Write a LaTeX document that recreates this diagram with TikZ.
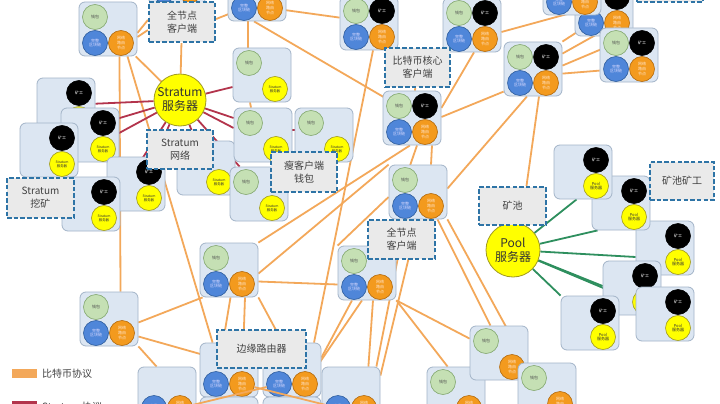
\documentclass[tikz,border=0pt]{standalone}
\usepackage{fontspec}
\setmainfont{Noto Sans CJK SC}
\usetikzlibrary{backgrounds}
\definecolor{boxfill}{HTML}{DCE6F2}
\definecolor{boxline}{HTML}{A3B4C8}
\definecolor{walf}{HTML}{C5E0B4}
\definecolor{wald}{HTML}{84A870}
\definecolor{bluef}{HTML}{4F86D9}
\definecolor{blued}{HTML}{2F5E9E}
\definecolor{orgf}{HTML}{F39A1E}
\definecolor{orgd}{HTML}{B36A0E}
\definecolor{yelf}{HTML}{FFFF00}
\definecolor{yeld}{HTML}{A09A20}
\definecolor{cBtc}{HTML}{F3A85A}
\definecolor{cStr}{HTML}{B3344C}
\definecolor{cPool}{HTML}{2E8F5E}
\definecolor{lblline}{HTML}{2E74A6}
\definecolor{lblfill}{HTML}{EAEAEA}
\tikzset{
 nbox/.style={draw=boxline, fill=boxfill, rounded corners=6pt, line width=0.8pt, minimum width=58pt, minimum height=54pt, inner sep=0pt},
 circ/.style={circle, minimum size=25pt, inner sep=0pt, line width=0.6pt, align=center, font=\fontsize{4}{4.6}\selectfont},
 walc/.style={circ, fill=walf, draw=wald, text=black!70, node contents={钱包}},
 blkc/.style={circ, fill=bluef, draw=blued, text=white!85!blue, node contents={完整\\区块链}},
 rtec/.style={circ, fill=orgf, draw=orgd, text=white!80!orange, node contents={网络\\路由\\节点}},
 minc/.style={circ, fill=black, draw=black, text=white, node contents={矿工}},
 srvc/.style={circ, fill=yelf, draw=yeld, text=black!80, font=\fontsize{3.4}{4}\selectfont, node contents={Stratum\\服务器}},
 plc/.style={circ, fill=yelf, draw=yeld, text=black!80, node contents={Pool\\服务器}},
 nonec/.style={inner sep=0pt, minimum size=0pt, node contents={}},
 lbl/.style={draw=lblline, fill=lblfill, line width=2.2pt, dash pattern=on 4.5pt off 2.2pt, inner sep=0pt, align=center, text=black!75, font=\fontsize{10}{13}\selectfont},
 bigy/.style={circle, fill=yelf, draw=yeld, line width=0.8pt, minimum size=52pt, inner sep=0pt, align=center, text=black!80, font=\fontsize{12}{14}\selectfont},
 btc/.style={draw=cBtc, line width=1.8pt},
 strat/.style={draw=cStr, line width=1.8pt},
 poolln/.style={draw=cPool, line width=1.8pt},
}
\newcommand\nbox[7]{%
 \node[nbox] (#1) at (#2+29,#3+27) {};
 \node (#1tl) at (#2+16,#3+15) [#4];
 \node (#1tr) at (#2+42,#3+15) [#5];
 \node (#1bl) at (#2+16,#3+41) [#6];
 \node (#1br) at (#2+42,#3+41) [#7];
}
\begin{document}
\begin{tikzpicture}[x=1pt,y=-1pt]
\useasboundingbox (0,0) rectangle (720,404);
\begin{scope}[on background layer]
\fill[white] (0,0) rectangle (720,404);
\end{scope}
% full nodes
\nbox{N2}{148}{-51}{nonec}{nonec}{blkc}{rtec}
\nbox{N3}{228}{-33}{nonec}{nonec}{blkc}{rtec}
\nbox{N1}{79}{2}{walc}{nonec}{blkc}{rtec}
\nbox{N4}{340}{-4}{walc}{minc}{blkc}{rtec}
\nbox{N5}{443}{-2}{walc}{minc}{blkc}{rtec}
\nbox{N7}{575}{-18}{nonec}{minc}{blkc}{rtec}
\nbox{N6}{543}{-39}{nonec}{nonec}{blkc}{rtec}
\nbox{N8}{600}{28}{walc}{minc}{blkc}{rtec}
\nbox{N9}{504}{42}{walc}{minc}{blkc}{rtec}
\nbox{N10}{383}{91}{walc}{minc}{blkc}{rtec}
\nbox{N11}{389}{165}{walc}{nonec}{blkc}{rtec}
\nbox{N12}{338}{246}{walc}{nonec}{blkc}{rtec}
\nbox{N13}{200}{243}{walc}{nonec}{blkc}{rtec}
\nbox{N14}{80}{292}{walc}{nonec}{blkc}{rtec}
\nbox{N15}{200}{343}{nonec}{nonec}{blkc}{rtec}
\nbox{N16}{263}{343}{nonec}{nonec}{blkc}{rtec}
\nbox{B1}{138}{367}{nonec}{nonec}{blkc}{rtec}
\nbox{B2}{200}{397}{nonec}{nonec}{nonec}{nonec}
\nbox{B3}{263}{397}{nonec}{nonec}{nonec}{nonec}
\nbox{B4}{322}{367}{nonec}{nonec}{blkc}{rtec}
\nbox{N20}{427}{367}{walc}{nonec}{nonec}{rtec}
\nbox{N19}{470}{326}{walc}{nonec}{nonec}{rtec}
\nbox{N21}{518}{363}{walc}{nonec}{nonec}{rtec}
% stratum miners
\nbox{S1}{37}{78}{nonec}{minc}{nonec}{srvc}
\nbox{S2}{61}{108}{nonec}{minc}{nonec}{srvc}
\nbox{S3}{20}{123}{nonec}{minc}{nonec}{srvc}
\nbox{S5}{107}{157}{nonec}{minc}{nonec}{srvc}
\nbox{S4}{62}{177}{nonec}{minc}{nonec}{srvc}
% stratum wallets
\nbox{W5}{177}{141}{walc}{nonec}{nonec}{srvc}
\nbox{W1}{233}{48}{walc}{nonec}{nonec}{srvc}
\nbox{W2}{234}{108}{walc}{nonec}{nonec}{srvc}
\nbox{W3}{295}{108}{walc}{nonec}{nonec}{srvc}
\nbox{W4}{230}{167}{walc}{nonec}{nonec}{srvc}
% pool miners
\nbox{P3}{636}{221}{nonec}{minc}{nonec}{plc}
\nbox{P2}{592}{176}{nonec}{minc}{nonec}{plc}
\nbox{P1}{554}{145}{nonec}{minc}{nonec}{plc}
\nbox{P4}{603}{261}{nonec}{minc}{nonec}{plc}
\nbox{P6}{561}{296}{nonec}{minc}{nonec}{plc}
\nbox{P5}{636}{287}{nonec}{minc}{nonec}{plc}
% lines over the bottom boxes
\draw[btc] (N16bl) -- (B1br);
\draw[btc] (N15br) -- (B4bl);
% servers
\node[bigy] (SRV) at (180,100) {Stratum\\服务器};
\node[bigy, minimum size=54pt] (POOL) at (513,250) {Pool\\服务器};
% labels
\node[lbl, minimum width=66pt, minimum height=40pt] (Q1) at (182,22) {全节点\\客户端};
\node[lbl, minimum width=65pt, minimum height=39pt] (Q2) at (417.5,67.5) {比特币核心\\客户端};
\node[lbl, minimum width=66pt, minimum height=39pt] (Q3) at (180,149.5) {Stratum\\网络};
\node[lbl, minimum width=67pt, minimum height=40pt] (Q4) at (40.5,198) {Stratum\\挖矿};
\node[lbl, minimum width=66pt, minimum height=40pt] (Q5) at (304,172) {瘦客户端\\钱包};
\node[lbl, minimum width=67pt, minimum height=38pt] (Q6) at (512.5,206) {矿池};
\node[lbl, minimum width=64pt, minimum height=38pt] (Q7) at (682,181) {矿池矿工};
\node[lbl, minimum width=67pt, minimum height=39pt] (Q8) at (401.5,239.5) {全节点\\客户端};
\node[lbl, minimum width=89pt, minimum height=38pt] (Q9) at (261.5,349) {边缘路由器};
\node[lbl, minimum width=66pt, minimum height=40pt] (Q10) at (670,-18) {};
% legend
\node[fill=cBtc, minimum width=25pt, minimum height=9pt, inner sep=0pt] (L1) at (24.5,373.5) {};
\node[anchor=west, font=\fontsize{10}{12}\selectfont, text=black!75, inner sep=0pt] (L1t) at (42,373.5) {比特币协议};
\node[fill=cStr, minimum width=25pt, minimum height=9pt, inner sep=0pt] (L2) at (24.5,405) {};
\node[anchor=west, font=\fontsize{10}{12}\selectfont, text=black!75, inner sep=0pt] (L2t) at (42,407) {Stratum 协议};
% connectors
\begin{scope}[on background layer]
\draw[btc] ([shift={(0,4)}]N1.east) -- ([shift={(0,-2)}]Q1.west);
\draw[btc] ([shift={(0,8)}]N1.east) -- ([shift={(0,8)}]Q1.west);
\draw[btc] ([shift={(0,-3)}]Q1.east) -- (N3bl);
\draw[btc] (Q1) -- (SRV);
\draw[btc] (N1) -- (SRV);
\draw[btc] ([shift={(11.5,0)}]N1.south) -- ([shift={(11.5,0)}]N14.north);
\draw[btc] ([shift={(19.5,0)}]N1.south) -- ([shift={(13,0)}]N15.north west);
\draw[btc] ([shift={(-9,0)}]N3.south) -- ([shift={(-14,0)}]W1.north);
\draw[btc] ([shift={(-3,0)}]N3.south) -- (N10tl);
\draw[btc] (N3br) -- ([shift={(0,22)}]N4.north west);
\draw[btc] ([shift={(4,0)}]N4.south) -- ([shift={(22,0)}]N16.north);
\draw[btc] ([shift={(2,0)}]N5.south) -- ([shift={(0,-10)}]N10.east);
\draw[btc] ([shift={(0,7)}]N5.east) -- ([shift={(0,3)}]N7.west);
\draw[btc] (N9.north east) -- (N7bl);
\draw[btc] ([shift={(0,12)}]N9.north east) -- (N7br);
\draw[btc] ([shift={(0,24)}]N9.north east) -- (N8tl);
\draw[btc] ([shift={(0,32)}]N9.north east) -- ([shift={(0,43)}]N8.north west);
\draw[btc] ([shift={(0,-1)}]N10.east) -- ([shift={(0,50)}]N9.north west);
\draw[btc] (Q2) -- (N10);
\draw[btc] ([shift={(5,0)}]N10.south) -- (N11tl);
\draw[btc] ([shift={(20,0)}]N10.south) -- ([shift={(13,0)}]N11.north);
\draw[btc] ([shift={(-2,0)}]N10.south) -- (N13.north east);
\draw[btc] (N11.north west) -- ([shift={(0,31)}]N13.north east);
\draw[btc] ([shift={(-6,0)}]N9.south) -- ([shift={(0,24)}]N11.north east);
\draw[btc] ([shift={(6,0)}]N9.south) -- ([shift={(14,0)}]Q6.north);
\draw[btc] ([shift={(19.5,0)}]N11.south) -- ([shift={(-8.5,0)}]N19.north);
\draw[btc] (N11.south east) -- (N21tl);
\draw[btc] ([shift={(-12.5,0)}]N11.south) -- ([shift={(-4,0)}]B4.north east);
\draw[btc] (N11.south) -- ([shift={(0,9)}]B4.north east);
\draw[btc] ([shift={(0,5)}]N11.west) -- (N12.north west);
\draw[btc] (N12.south east) -- ([shift={(0,13)}]N19.north west);
\draw[btc] (N12.south east) -- ([shift={(21,0)}]N20.north west);
\draw[btc] ([shift={(0,11.5)}]N13.east) -- ([shift={(0,11.5)}]N12.west);
\draw[btc] ([shift={(-15,0)}]N12.south) -- ([shift={(0,15)}]N16.north east);
\draw[btc] ([shift={(-5,0)}]N12.south) -- (N16br);
\draw[btc] ([shift={(6,0)}]N12.south) -- ([shift={(-12,0)}]B4.north east);
\draw[btc] ([shift={(1.5,0)}]N13.south) -- (N15bl);
\draw[btc] ([shift={(16,0)}]N13.south) -- (N15br);
\draw[btc] (N13.south east) -- (N16br);
\draw[btc] ([shift={(0,3.5)}]N14.east) -- ([shift={(3,0)}]N13.south west);
\draw[btc] ([shift={(0,17.5)}]N14.east) -- ([shift={(17,16)}]N15.north west);
\draw[btc] (N14.south east) -- ([shift={(19,0)}]B1.north west);
\draw[btc] ([shift={(-12,0)}]W1.south) -- ([shift={(-12,0)}]W2.north);
% stratum protocol
\draw[strat] (SRV) -- (S1);
\draw[strat] (SRV) -- (S2tr);
\draw[strat] (SRV) -- (S3br);
\draw[strat] (SRV) -- (S4br);
\draw[strat] (SRV) -- (S5tr);
\draw[strat] (SRV) -- (W5);
\draw[strat] (SRV) -- ([shift={(0,12)}]W1.west);
\draw[strat] (SRV) -- ([shift={(0,-17)}]W2.west);
\draw[strat] (SRV) -- ([shift={(0,-7)}]W2.west);
\draw[strat] (SRV) -- ([shift={(10,0)}]W4.north west);
\draw[strat] ([shift={(0,-5)}]W2.east) -- ([shift={(0,-5)}]W3.west);
% pool protocol
\draw[poolln] (POOL) -- ([shift={(23,0)}]P1.south west);
\draw[poolln] (POOL) -- ([shift={(6,0)}]P2.south west);
\draw[poolln] (POOL) -- ([shift={(0,9)}]P3.west);
\draw[poolln] (POOL) -- ([shift={(0,-2)}]P4.west);
\draw[poolln] (POOL) -- (P5);
\draw[poolln] (POOL) -- (P6.north west);
\end{scope}
\end{tikzpicture}
\end{document}
